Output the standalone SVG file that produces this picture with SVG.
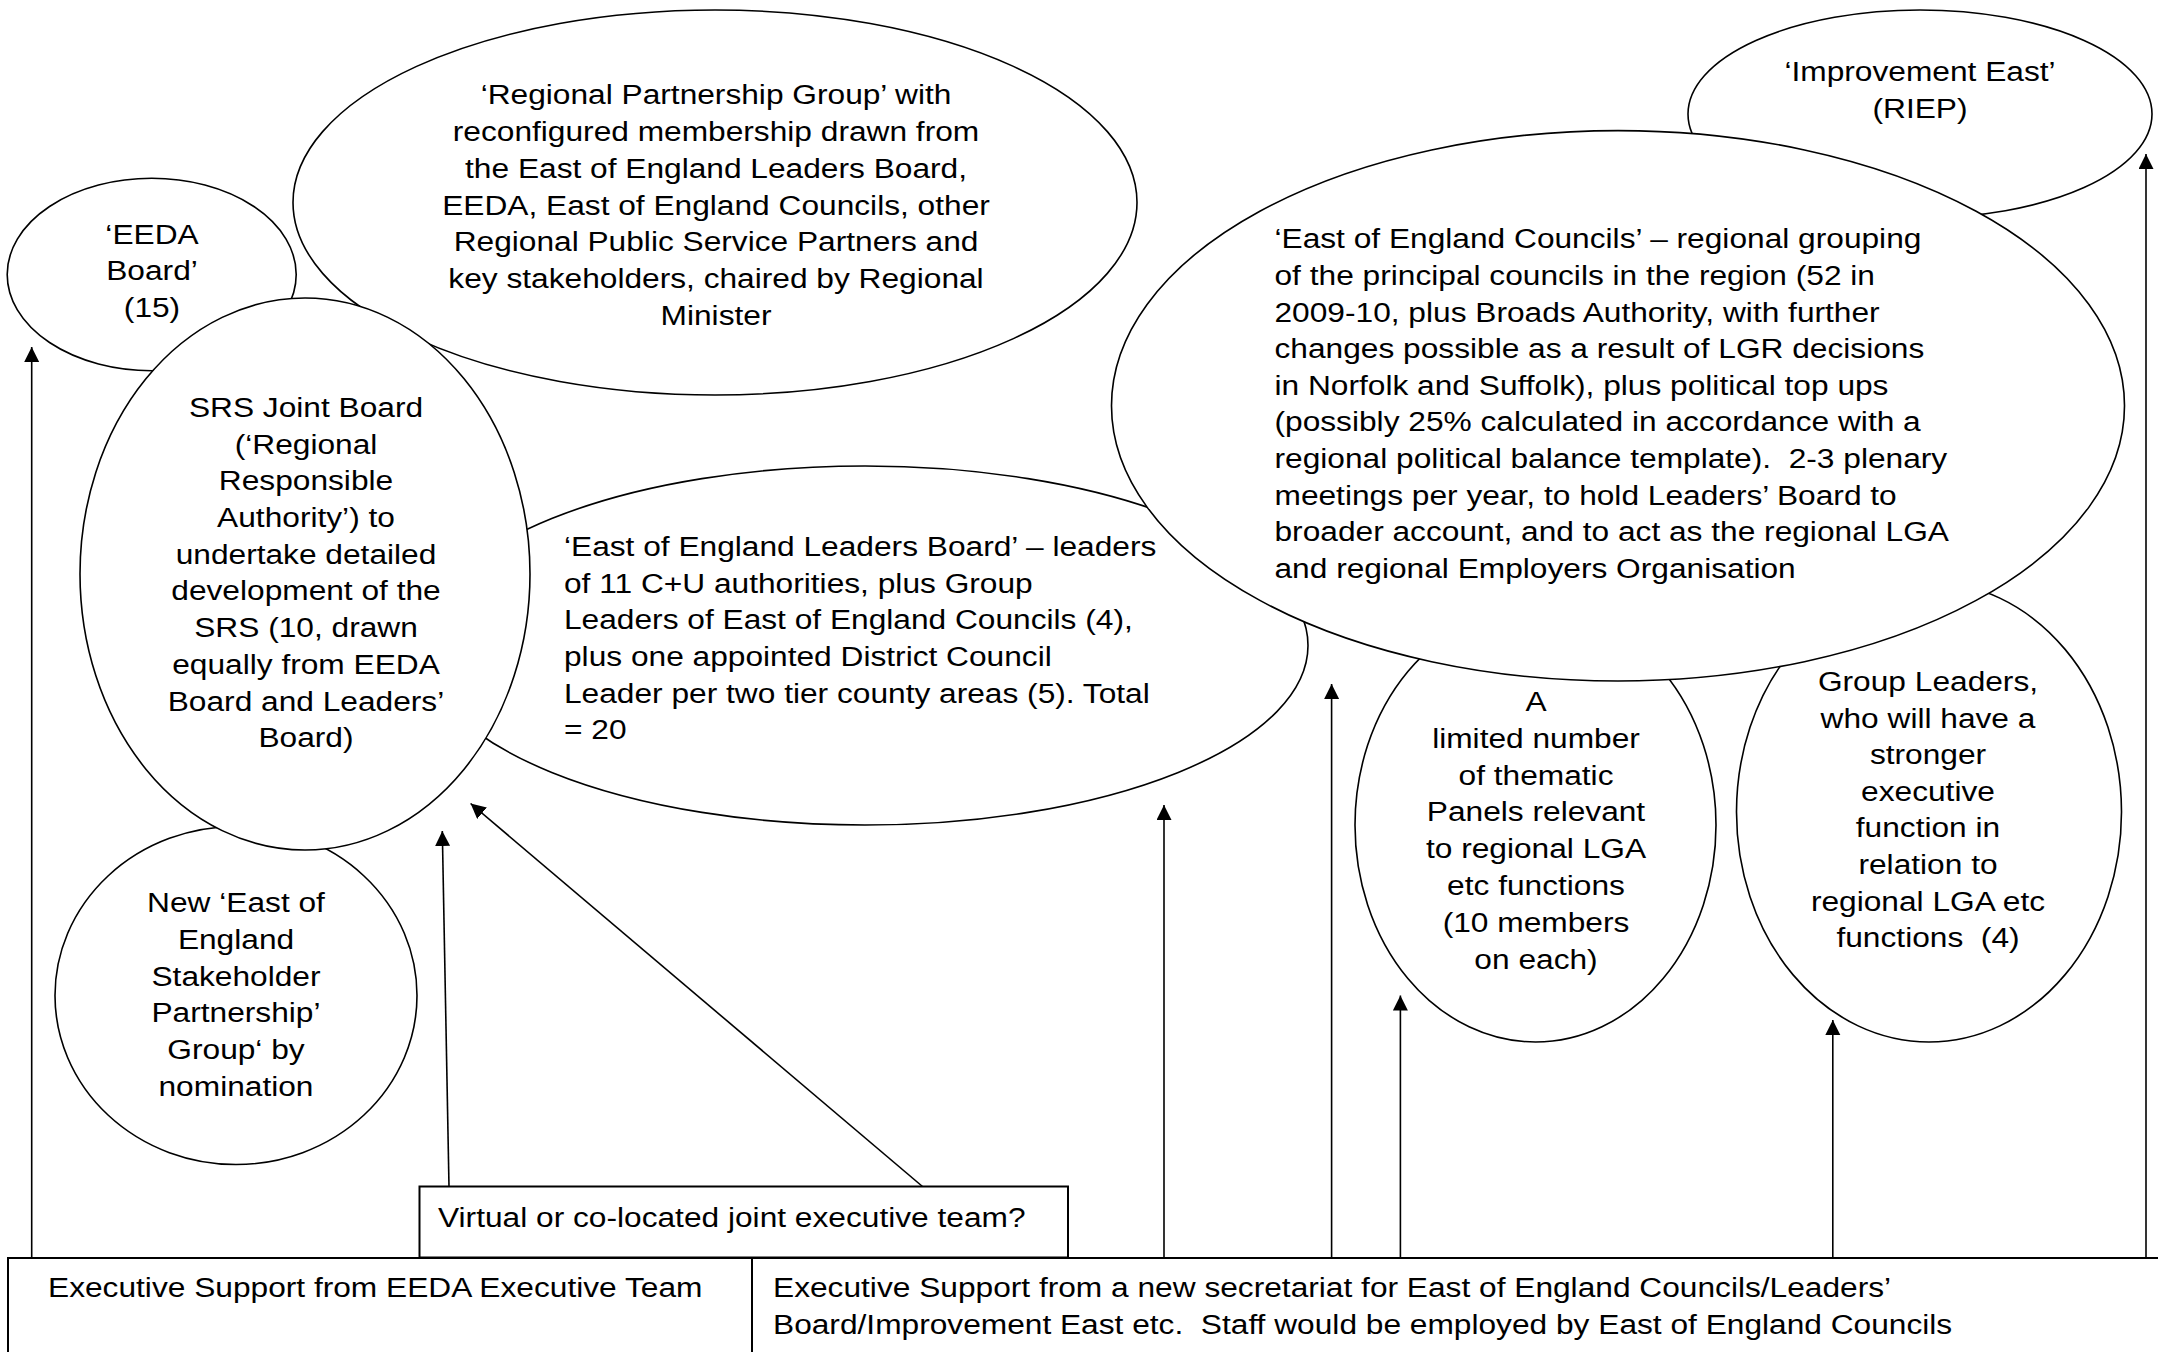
<svg xmlns="http://www.w3.org/2000/svg" width="2158" height="1352" viewBox="0 0 2158 1352">
<style>
.n{fill:#fff;stroke:#000;stroke-width:1.6}
.b{fill:#fff;stroke:#000;stroke-width:2}
.t{font-family:"Liberation Sans",Arial,sans-serif;font-size:27.8px;fill:#000}
.c{text-anchor:middle}
.a{fill:none;stroke:#000;stroke-width:1.6;marker-end:url(#ah)}
</style>
<defs>
<marker id="ah" markerUnits="userSpaceOnUse" markerWidth="16" markerHeight="16" refX="15" refY="7.5" orient="auto">
<path d="M0,0 L15,7.5 L0,15 z" fill="#000"/>
</marker>
</defs>
<rect x="0" y="0" width="2158" height="1352" fill="#fff"/>

<g id="leaders-board">
<ellipse class="n" cx="865" cy="645.5" rx="443" ry="179.5"/>
<g transform="translate(564,0) scale(1.14,1)">
<text class="t"><tspan x="0" y="556">‘East of England Leaders Board’ – leaders</tspan><tspan x="0" y="592.7">of 11 C+U authorities, plus Group</tspan><tspan x="0" y="629.4">Leaders of East of England Councils (4),</tspan><tspan x="0" y="666.1">plus one appointed District Council</tspan><tspan x="0" y="702.8">Leader per two tier county areas (5). Total</tspan><tspan x="0" y="739.5">= 20</tspan></text>
</g>
</g>

<g id="eeda-board">
<ellipse class="n" cx="151.7" cy="274.5" rx="144.5" ry="96.2"/>
<g transform="translate(152,0) scale(1.14,1)">
<text class="t c"><tspan x="0" y="244">‘EEDA</tspan><tspan x="0" y="280.5">Board’</tspan><tspan x="0" y="317">(15)</tspan></text>
</g>
</g>

<g id="regional-partnership-group">
<ellipse class="n" cx="715" cy="202.5" rx="422" ry="192.5"/>
<g transform="translate(716,0) scale(1.14,1)">
<text class="t c"><tspan x="0" y="104.5">‘Regional Partnership Group’ with</tspan><tspan x="0" y="141.2">reconfigured membership drawn from</tspan><tspan x="0" y="177.9">the East of England Leaders Board,</tspan><tspan x="0" y="214.6">EEDA, East of England Councils, other</tspan><tspan x="0" y="251.3">Regional Public Service Partners and</tspan><tspan x="0" y="288">key stakeholders, chaired by Regional</tspan><tspan x="0" y="324.7">Minister</tspan></text>
</g>
</g>

<g id="improvement-east">
<ellipse class="n" cx="1920" cy="114" rx="232" ry="104"/>
<g transform="translate(1920,0) scale(1.14,1)">
<text class="t c"><tspan x="0" y="81">‘Improvement East’</tspan><tspan x="0" y="118">(RIEP)</tspan></text>
</g>
</g>

<g id="thematic-panels">
<ellipse class="n" cx="1535.5" cy="825" rx="180.5" ry="217"/>
<g transform="translate(1536,0) scale(1.14,1)">
<text class="t c"><tspan x="0" y="711">A</tspan><tspan x="0" y="747.8">limited number</tspan><tspan x="0" y="784.6">of thematic</tspan><tspan x="0" y="821.4">Panels relevant</tspan><tspan x="0" y="858.2">to regional LGA</tspan><tspan x="0" y="895">etc functions</tspan><tspan x="0" y="931.8">(10 members</tspan><tspan x="0" y="968.6">on each)</tspan></text>
</g>
</g>

<g id="group-leaders">
<ellipse class="n" cx="1929" cy="812" rx="192.5" ry="230"/>
<g transform="translate(1928,0) scale(1.14,1)">
<text class="t c" xml:space="preserve"><tspan x="0" y="691">Group Leaders,</tspan><tspan x="0" y="727.6">who will have a</tspan><tspan x="0" y="764.2">stronger</tspan><tspan x="0" y="800.8">executive</tspan><tspan x="0" y="837.4">function in</tspan><tspan x="0" y="874">relation to</tspan><tspan x="0" y="910.6">regional LGA etc</tspan><tspan x="0" y="947.2">functions  (4)</tspan></text>
</g>
</g>

<g id="stakeholder-partnership">
<ellipse class="n" cx="236" cy="995.5" rx="181" ry="169"/>
<g transform="translate(236,0) scale(1.14,1)">
<text class="t c"><tspan x="0" y="912">New ‘East of</tspan><tspan x="0" y="948.8">England</tspan><tspan x="0" y="985.6">Stakeholder</tspan><tspan x="0" y="1022.4">Partnership’</tspan><tspan x="0" y="1059.2">Group‘ by</tspan><tspan x="0" y="1096">nomination</tspan></text>
</g>
</g>

<g id="srs-joint-board">
<ellipse class="n" cx="305" cy="574" rx="225" ry="276"/>
<g transform="translate(306,0) scale(1.14,1)">
<text class="t c"><tspan x="0" y="417">SRS Joint Board</tspan><tspan x="0" y="453.7">(‘Regional</tspan><tspan x="0" y="490.4">Responsible</tspan><tspan x="0" y="527.1">Authority’) to</tspan><tspan x="0" y="563.8">undertake detailed</tspan><tspan x="0" y="600.5">development of the</tspan><tspan x="0" y="637.2">SRS (10, drawn</tspan><tspan x="0" y="673.9">equally from EEDA</tspan><tspan x="0" y="710.6">Board and Leaders’</tspan><tspan x="0" y="747.3">Board)</tspan></text>
</g>
</g>

<g id="east-of-england-councils">
<ellipse class="n" cx="1618" cy="405.8" rx="506.5" ry="275.2"/>
<g transform="translate(1274.5,0) scale(1.14,1)">
<text class="t" xml:space="preserve"><tspan x="0" y="248.5">‘East of England Councils’ – regional grouping</tspan><tspan x="0" y="285.1">of the principal councils in the region (52 in</tspan><tspan x="0" y="321.7">2009-10, plus Broads Authority, with further</tspan><tspan x="0" y="358.3">changes possible as a result of LGR decisions</tspan><tspan x="0" y="394.9">in Norfolk and Suffolk), plus political top ups</tspan><tspan x="0" y="431.5">(possibly 25% calculated in accordance with a</tspan><tspan x="0" y="468.1">regional political balance template).  2-3 plenary</tspan><tspan x="0" y="504.7">meetings per year, to hold Leaders’ Board to</tspan><tspan x="0" y="541.3">broader account, and to act as the regional LGA</tspan><tspan x="0" y="577.9">and regional Employers Organisation</tspan></text>
</g>
</g>

<g id="virtual-team">
<rect class="b" x="419.5" y="1186.5" width="648.5" height="71"/>
<g transform="translate(438,0) scale(1.14,1)">
<text class="t"><tspan x="0" y="1227">Virtual or co-located joint executive team?</tspan></text>
</g>
</g>

<g id="eeda-exec-support">
<rect class="b" x="8" y="1258" width="744" height="120"/>
<g transform="translate(48,0) scale(1.14,1)">
<text class="t"><tspan x="0" y="1297">Executive Support from EEDA Executive Team</tspan></text>
</g>
</g>

<g id="secretariat-support">
<rect class="b" x="752" y="1258" width="1420" height="120"/>
<g transform="translate(773,0) scale(1.14,1)">
<text class="t" xml:space="preserve"><tspan x="0" y="1297">Executive Support from a new secretariat for East of England Councils/Leaders’</tspan><tspan x="0" y="1334">Board/Improvement East etc.  Staff would be employed by East of England Councils</tspan></text>
</g>
</g>

<g id="connectors">
<line class="a" x1="31.7" y1="1258" x2="31.7" y2="347"/>
<line class="a" x1="449" y1="1186.5" x2="442.3" y2="831"/>
<line class="a" x1="922.5" y1="1186.5" x2="470.6" y2="803.5"/>
<line class="a" x1="1164" y1="1258" x2="1164" y2="805"/>
<line class="a" x1="1331.6" y1="1258" x2="1331.6" y2="684"/>
<line class="a" x1="1400.4" y1="1258" x2="1400.4" y2="995.5"/>
<line class="a" x1="1832.8" y1="1258" x2="1832.8" y2="1020"/>
<line class="a" x1="2146" y1="1258" x2="2146" y2="154"/>
</g>
</svg>
